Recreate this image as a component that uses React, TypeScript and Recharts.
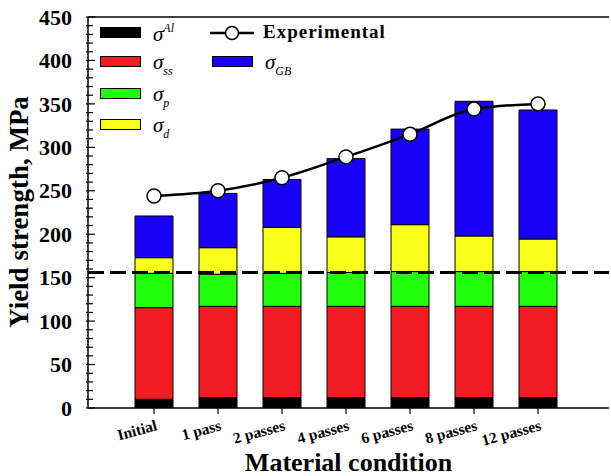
import React from 'react';
import { ComposedChart, Bar, Line, XAxis, YAxis, ReferenceLine } from 'recharts';

const categories = ['Initial', '1 pass', '2 passes', '4 passes', '6 passes', '8 passes', '12 passes'];
const sigmaAl = [10, 12, 12, 12, 12, 12, 12];
const sigmaSS = [105.5, 105, 105, 105, 105, 105, 105];
const sigmaP = [39.5, 37, 38, 39, 40, 40, 40];
const sigmaD = [18, 30.5, 53, 41, 54, 41, 37.5];
const sigmaGB = [48, 62.5, 55, 90, 110, 155, 148.5];
const experimental = [244, 250, 265, 289, 315, 344, 350];
const dashedLevel = 156;
const yMajorTicks = [0, 50, 100, 150, 200, 250, 300, 350, 400, 450];
const yMinorStep = 10;
const yTicks = Array.from({ length: 46 }, (_, i) => i * yMinorStep);

const data = categories.map((c, i) => ({
  name: c,
  al: sigmaAl[i],
  ss: sigmaSS[i],
  p: sigmaP[i],
  d: sigmaD[i],
  gb: sigmaGB[i],
  exp: experimental[i],
}));

const FONT = '"Liberation Serif", "Times New Roman", serif';
const C_AL = '#000000';
const C_SS = '#f01e23';
const C_P = '#22ff0a';
const C_D = '#f8ff1a';
const C_GB = '#1900fa';

const LeftTick = (props: any) => {
  const { x, y, payload } = props;
  const v = payload.value;
  const major = yMajorTicks.includes(v);
  return (
    <g>
      <line x1={x - 2} x2={x + (major ? 7 : 5)} y1={y} y2={y} stroke="#000" strokeWidth={1.2} />
      {major && (
        <text x={x - 16} y={y} dy="0.35em" textAnchor="end" fontFamily={FONT} fontWeight="bold" fontSize={22} fill="#000">
          {v}
        </text>
      )}
    </g>
  );
};

const RightTick = (props: any) => {
  const { x, y, payload } = props;
  const major = yMajorTicks.includes(payload.value);
  return <line x1={x} x2={x - (major ? 6 : 4)} y1={y} y2={y} stroke="#000" strokeWidth={1.2} />;
};

const BottomTick = (props: any) => {
  const { x, y, payload } = props;
  const tx = x + 4;
  const ty = y + 14;
  return (
    <text x={tx} y={ty} textAnchor="end" transform={`rotate(-15 ${tx} ${ty})`} fontFamily={FONT} fontWeight="bold" fontSize={15.5} fill="#000">
      {payload.value}
    </text>
  );
};

const sw = (color: string, left: number, top: number) => (
  <div style={{ position: 'absolute', left, top, width: 41, height: 11, background: color, border: '1px solid #000', boxSizing: 'border-box' }} />
);

const sig = (left: number, top: number, sub: string, sup?: boolean) => (
  <div style={{ position: 'absolute', left, top, fontFamily: FONT, fontStyle: 'italic', fontSize: 21, lineHeight: '21px', whiteSpace: 'nowrap', color: '#000' }}>
    σ
    <span style={{ fontSize: 12, position: 'relative', top: sup ? -9 : 6 }}>{sub}</span>
  </div>
);

const LegendOverlay = () => (
  <div style={{ position: 'absolute', left: 0, top: 0, width: 400, height: 140, pointerEvents: 'none' }}>
    {sw(C_AL, 100, 27)}
    {sig(153, 24, 'Al', true)}
    {sw(C_SS, 100, 56)}
    {sig(153, 52, 'ss')}
    {sw(C_P, 100, 88)}
    {sig(153, 84, 'p')}
    {sw(C_D, 100, 119)}
    {sig(153, 115, 'd')}
    <svg style={{ position: 'absolute', left: 209, top: 24 }} width={46} height={18}>
      <line x1={1} x2={45} y1={9} y2={9} stroke="#000" strokeWidth={2.5} />
      <circle cx={23} cy={9} r={6.5} fill="#fff" stroke="#000" strokeWidth={1.5} />
    </svg>
    <div style={{ position: 'absolute', left: 263, top: 21, fontFamily: FONT, fontWeight: 'bold', fontSize: 19, letterSpacing: 1, color: '#000', whiteSpace: 'nowrap' }}>
      Experimental
    </div>
    {sw(C_GB, 212, 56)}
    {sig(265, 52, 'GB')}
  </div>
);

export default function App() {
  return (
    <div style={{ position: 'absolute', left: 0, top: 0, width: 611, height: 476 }}>
      <ComposedChart
        width={611}
        height={476}
        data={data}
        margin={{ top: 17, right: 2, left: 0, bottom: 0 }}
        style={{ fontFamily: FONT }}
      >
        <XAxis
          dataKey="name"
          type="category"
          padding={{ left: 34, right: 39 }}
          height={68}
          stroke="#000"
          axisLine={{ stroke: '#000', strokeWidth: 1.5 }}
          tickLine={{ stroke: '#000', strokeWidth: 1.2 }}
          tickSize={6}
          tickMargin={2}
          interval={0}
          tick={<BottomTick />}
          label={{ value: 'Material condition', position: 'insideBottom', offset: 5, fontFamily: FONT, fontWeight: 'bold', fontSize: 26, fill: '#000' }}
        />
        <YAxis
          yAxisId="left"
          width={88}
          domain={[0, 450]}
          ticks={yTicks}
          interval={0}
          type="number"
          allowDataOverflow
          axisLine={{ stroke: '#000', strokeWidth: 1.5 }}
          tickLine={false}
          tickSize={0}
          tickMargin={0}
          tick={<LeftTick />}
          label={{
            content: () => (
              <text x={28} y={212} transform="rotate(-90 28 212)" textAnchor="middle" fontFamily={FONT} fontWeight="bold" fontSize={27} fill="#000">
                Yield strength, MPa
              </text>
            ),
          }}
        />
        <YAxis
          yAxisId="right"
          orientation="right"
          width={0}
          domain={[0, 450]}
          ticks={yTicks}
          interval={0}
          type="number"
          axisLine={{ stroke: '#000', strokeWidth: 1.5 }}
          tickLine={false}
          tickSize={0}
          tickMargin={0}
          tick={<RightTick />}
        />
        <Bar yAxisId="left" dataKey="al" stackId="s" fill={C_AL} stroke="#000" strokeWidth={1} barSize={38} isAnimationActive={false} />
        <Bar yAxisId="left" dataKey="ss" stackId="s" fill={C_SS} stroke="#000" strokeWidth={1} barSize={38} isAnimationActive={false} />
        <Bar yAxisId="left" dataKey="p" stackId="s" fill={C_P} stroke="#000" strokeWidth={1} barSize={38} isAnimationActive={false} />
        <Bar yAxisId="left" dataKey="d" stackId="s" fill={C_D} stroke="#000" strokeWidth={1} barSize={38} isAnimationActive={false} />
        <Bar yAxisId="left" dataKey="gb" stackId="s" fill={C_GB} stroke="#000" strokeWidth={1} barSize={38} isAnimationActive={false} />
        <ReferenceLine yAxisId="left" y={dashedLevel} stroke="#000" strokeWidth={3} strokeDasharray="16 6" />
        <ReferenceLine yAxisId="left" y={450} stroke="#000" strokeWidth={1.5} />
        <Line
          yAxisId="left"
          type="monotone"
          dataKey="exp"
          stroke="#000"
          strokeWidth={2.5}
          dot={{ r: 7, fill: '#fff', stroke: '#000', strokeWidth: 1.5 }}
          isAnimationActive={false}
        />
      </ComposedChart>
      <LegendOverlay />
    </div>
  );
}
